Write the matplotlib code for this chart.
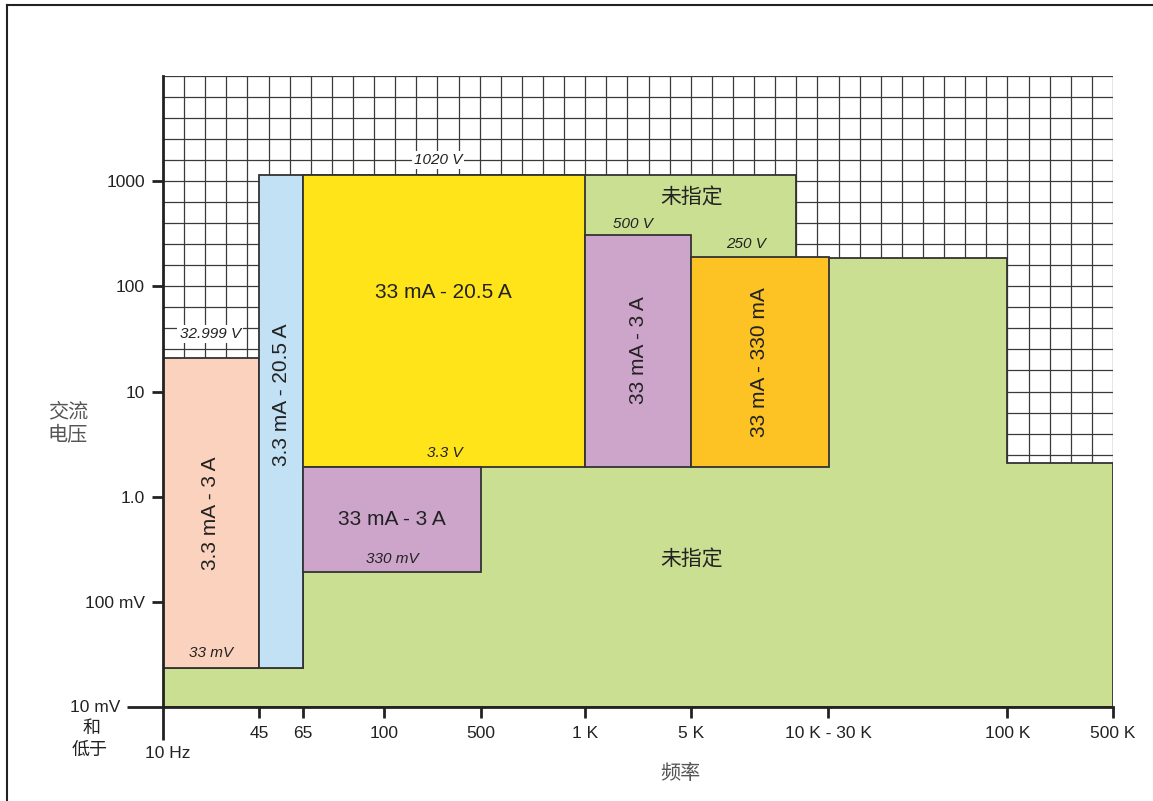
import numpy as np
import matplotlib.pyplot as plt
from matplotlib.patches import Rectangle, Polygon
from matplotlib.lines import Line2D

plt.rcParams['font.family'] = ['Liberation Sans', 'Noto Sans CJK SC']

W, H = 1153, 801

# frequency breakpoints (schematic axis, one unit = one grid cell)
freq_labels = ['10 Hz', '45', '65', '100', '500', '1 K', '5 K', '10 K - 30 K', '100 K', '500 K']
freq_x = [0, 4.55, 6.63, 10.47, 15.05, 20, 25, 31.5, 40, 45]

volt_ticks = [0.01, 0.1, 1, 10, 100, 1000]
volt_labels = ['', '100 mV', '1.0', '10', '100', '1000']

# unspecified (green) region outline
open_x = [0, 45, 45, 40, 40, 30, 30, 6.63, 6.63, 0]
open_v = [0.01, 0.01, 2.09, 2.09, 186, 186, 1143, 1143, 0.0235, 0.0235]

# specified ranges
box_x0 = [0, 4.55, 6.63, 6.63, 20, 25]
box_x1 = [4.55, 6.63, 20, 15.05, 25, 31.55]
box_v0 = [0.0235, 0.0235, 1.91, 0.192, 1.91, 1.91]
box_v1 = [20.8, 1143, 1143, 1.91, 308, 190]
box_text = ['3.3 mA - 3 A', '3.3 mA - 20.5 A', '33 mA - 20.5 A',
            '33 mA - 3 A', '33 mA - 3 A', '33 mA - 330 mA']
box_text_x = [2.27, 5.59, 13.3, 10.84, 22.5, 28.27]
box_text_v = [0.7, 9.3, 86.5, 0.6, 24.5, 19]
box_rot = [90, 90, 0, 0, 90, 90]
box_colors = ['#fbd2be', '#c2e1f5', '#fee418', '#cda5cb', '#cda5cb', '#fdc223']

# voltage limit notes
note_text = ['1020 V', '32.999 V', '500 V', '250 V', '3.3 V', '330 mV', '33 mV']
note_x = [13.03, 2.23, 22.26, 27.62, 13.36, 10.85, 2.27]
note_v = [1590, 35.2, 392, 252, 2.6, 0.255, 0.0326]
note_bg = [True, True, False, False, False, False, False]

unspec_x = [25.06, 25.06]
unspec_v = [692, 0.25]

green = '#cadf91'
edge = '#333333'
ink = '#222222'

fig = plt.figure(figsize=(W / 100, H / 100), dpi=100)
ax = fig.add_axes([163 / W, 1 - 707 / H, 950 / W, 631 / H])
ax.set_yscale('log')
ax.set_xlim(0, 45)
ax.set_ylim(0.01, 10000)

# background grid, 5 cells per decade
for k in range(46):
    ax.axvline(k, color='#3a3a3a', lw=0.9, zorder=0)
for k in range(31):
    ax.axhline(10 ** (-2 + 0.2 * k), color='#3a3a3a', lw=0.9, zorder=0)

ax.add_patch(Polygon(list(zip(open_x, open_v)), closed=True, facecolor=green,
                     edgecolor=edge, lw=1.3, zorder=2))
for i in range(len(box_text)):
    ax.add_patch(Rectangle((box_x0[i], box_v0[i]), box_x1[i] - box_x0[i],
                           box_v1[i] - box_v0[i], facecolor=box_colors[i],
                           edgecolor=edge, lw=1.3, zorder=3))
    ax.text(box_text_x[i], box_text_v[i], box_text[i], rotation=box_rot[i],
            ha='center', va='center', fontsize=15, color=ink, zorder=5)

for i in range(len(note_text)):
    bb = dict(facecolor='white', edgecolor='none', pad=1.5) if note_bg[i] else None
    ax.text(note_x[i], note_v[i], note_text[i], style='italic', ha='center',
            va='center', fontsize=11, color=ink, bbox=bb, zorder=5)

for i in range(len(unspec_x)):
    ax.text(unspec_x[i], unspec_v[i], '未指定', ha='center', va='center',
            fontsize=15, color=ink, zorder=5)

for s in ['top', 'right']:
    ax.spines[s].set_visible(False)
for s in ['left', 'bottom']:
    ax.spines[s].set_color(ink)
    ax.spines[s].set_linewidth(2)
    ax.spines[s].set_zorder(6)

ax.set_yticks(volt_ticks)
ax.set_yticklabels(volt_labels)
ax.yaxis.set_minor_locator(plt.NullLocator())
ax.set_xticks(freq_x)
ax.set_xticklabels([''] + freq_labels[1:])
ax.tick_params(axis='both', length=8, width=2, color=ink, labelcolor=ink,
               labelsize=12.5)
ax.tick_params(axis='y', pad=5)
ax.tick_params(axis='x', pad=6)
ax.yaxis.get_major_ticks()[0].tick1line.set_markersize(26)
ax.xaxis.get_major_ticks()[0].tick1line.set_markersize(24)

def ftext(x, y, s, **kw):
    fig.text(x / W, 1 - y / H, s, **kw)

ftext(120, 707, '10 mV', ha='right', va='center', fontsize=12.5, color=ink)
ftext(92, 728, '和', ha='center', va='center', fontsize=13, color=ink)
ftext(90, 750, '低于', ha='center', va='center', fontsize=13, color=ink)
ftext(168, 753, freq_labels[0], ha='center', va='center', fontsize=12.5, color=ink)
ftext(68, 424, '交流\n电压', ha='center', va='center', fontsize=14.5,
      color='#555555', linespacing=1.35)
ftext(680, 773, '频率', ha='center', va='center', fontsize=14.5, color='#555555')

# outer frame
fig.add_artist(Line2D([7 / W, 7 / W], [0, 1 - 5 / H], color=ink, lw=1.5))
fig.add_artist(Line2D([7 / W, 1], [1 - 5 / H, 1 - 5 / H], color=ink, lw=1.5))

fig.savefig('out.png', dpi=100)
